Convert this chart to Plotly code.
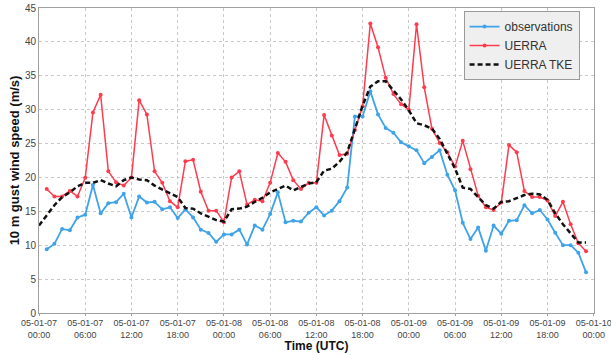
import plotly.graph_objects as go
import pandas as pd

start = pd.Timestamp("2005-01-07 00:00")

obs_hours = list(range(1, 72))
obs = [9.4, 10.2, 12.4, 12.2, 14.1, 14.5, 18.9, 14.7, 16.2, 16.35, 17.6, 14.1,
       17.2, 16.3, 16.4, 15.3, 15.6, 14.0, 15.3, 14.1, 12.3, 11.8, 10.5, 11.6,
       11.6, 12.3, 10.1, 12.9, 12.3, 14.6, 17.8, 13.4, 13.6, 13.5, 14.8, 15.6,
       14.4, 15.1, 16.5, 18.5, 29.0, 29.0, 32.7, 29.3, 27.3, 26.6, 25.2, 24.6,
       24.0, 22.1, 23.0, 24.0, 20.4, 18.1, 13.3, 10.9, 12.6, 9.2, 12.9, 11.7,
       13.6, 13.7, 15.9, 14.7, 15.2, 13.8, 11.85, 10.0, 10.0, 8.9, 6.0]

uerra = [18.3, 17.2, 17.2, 18.0, 17.2, 19.95, 29.6, 32.2, 20.9, 19.3, 18.8, 20.0,
         31.4, 29.3, 20.9, 19.2, 16.5, 15.6, 22.4, 22.6, 17.9, 15.1, 15.1, 13.4,
         20.0, 20.9, 16.0, 16.7, 16.5, 19.2, 23.6, 22.3, 19.6, 18.3, 19.2, 19.2,
         29.2, 26.2, 23.3, 23.5, 27.0, 30.5, 42.7, 39.2, 34.7, 32.3, 30.8, 30.0,
         42.6, 33.3, 27.2, 25.1, 23.7, 21.6, 25.4, 21.2, 17.3, 15.6, 15.2, 16.3,
         24.8, 23.7, 18.0, 17.1, 17.1, 16.6, 14.3, 16.4, 13.1, 10.3, 9.1]

tke_hours = list(range(0, 72))
tke = [12.9, 14.4, 15.9, 17.1, 17.8, 18.7, 19.2, 19.2, 19.6, 19.1, 18.7, 19.6, 20.0,
       19.7, 19.6, 18.8, 18.2, 17.6, 17.1, 15.5, 15.4, 14.7, 14.2, 13.7, 13.5,
       15.3, 15.4, 15.7, 16.4, 17.0, 17.8, 18.3, 18.8, 18.1, 18.6, 19.1, 19.3,
       21.0, 21.3, 22.3, 23.7, 27.2, 30.6, 33.4, 34.2, 34.2, 32.9, 31.5, 29.9,
       28.0, 27.7, 27.2, 25.7, 23.5, 21.3, 18.5, 18.3, 17.1, 15.9, 15.4, 16.4,
       16.5, 16.9, 17.4, 17.6, 17.5, 16.7, 14.7, 13.1, 11.7, 10.4, 10.4]

obs_t = [start + pd.Timedelta(hours=h) for h in obs_hours]
tke_t = [start + pd.Timedelta(hours=h) for h in tke_hours]

FONT = "Liberation Sans, Arial, sans-serif"

fig = go.Figure()
fig.add_trace(go.Scatter(x=obs_t, y=obs, name="observations", mode="lines+markers",
                         line=dict(color="#3FA3EA", width=1.8),
                         marker=dict(size=4, color="#3FA3EA")))
fig.add_trace(go.Scatter(x=obs_t, y=uerra, name="UERRA", mode="lines+markers",
                         line=dict(color="#FF3B4E", width=1.5),
                         marker=dict(size=4, color="#FF3B4E")))
fig.add_trace(go.Scatter(x=tke_t, y=tke, name="UERRA TKE", mode="lines",
                         line=dict(color="#111111", width=2.5, dash="5px,3px")))

fig.update_layout(
    width=611, height=355,
    margin=dict(l=39, r=17, t=8, b=42),
    paper_bgcolor="white", plot_bgcolor="white",
    font=dict(family=FONT, size=11, color="#444444"),
    showlegend=True,
    legend=dict(x=0.765, y=0.99, xanchor="left", yanchor="top",
                bgcolor="#EFEFEF", bordercolor="#9A9A9A", borderwidth=1,
                font=dict(family=FONT, size=12, color="#333333"),
                tracegroupgap=0, itemwidth=30),
)
fig.update_xaxes(
    type="date", automargin=False,
    range=[start, start + pd.Timedelta(hours=72, minutes=2)],
    dtick=6 * 3600 * 1000, tick0=start,
    tickformat="%y-%m-%d<br>%H:%M",
    ticklabeloverflow="allow",
    showgrid=True, gridcolor="#C8C8C8", griddash="dot", gridwidth=1,
    showline=True, linecolor="#A0A0A0", linewidth=1, mirror=True,
    ticks="outside", ticklen=2, tickcolor="#A0A0A0",
    ticklabelstandoff=-1,
    tickfont=dict(family=FONT, size=9, color="#444444"),
    title=dict(text="<b>Time (UTC)</b>", font=dict(family=FONT, size=12, color="#111111"), standoff=0),
    zeroline=False,
)
fig.update_yaxes(
    range=[0, 45], dtick=5, automargin=False,
    showgrid=True, gridcolor="#C8C8C8", griddash="dot", gridwidth=1,
    showline=True, linecolor="#A0A0A0", linewidth=1, mirror=True,
    ticks="",
    tickfont=dict(family=FONT, size=10, color="#444444"),
    title=dict(text="<b>10 m gust wind speed (m/s)</b>", font=dict(family=FONT, size=13, color="#111111"), standoff=2),
    zeroline=False,
)

fig.write_html("out.html")
